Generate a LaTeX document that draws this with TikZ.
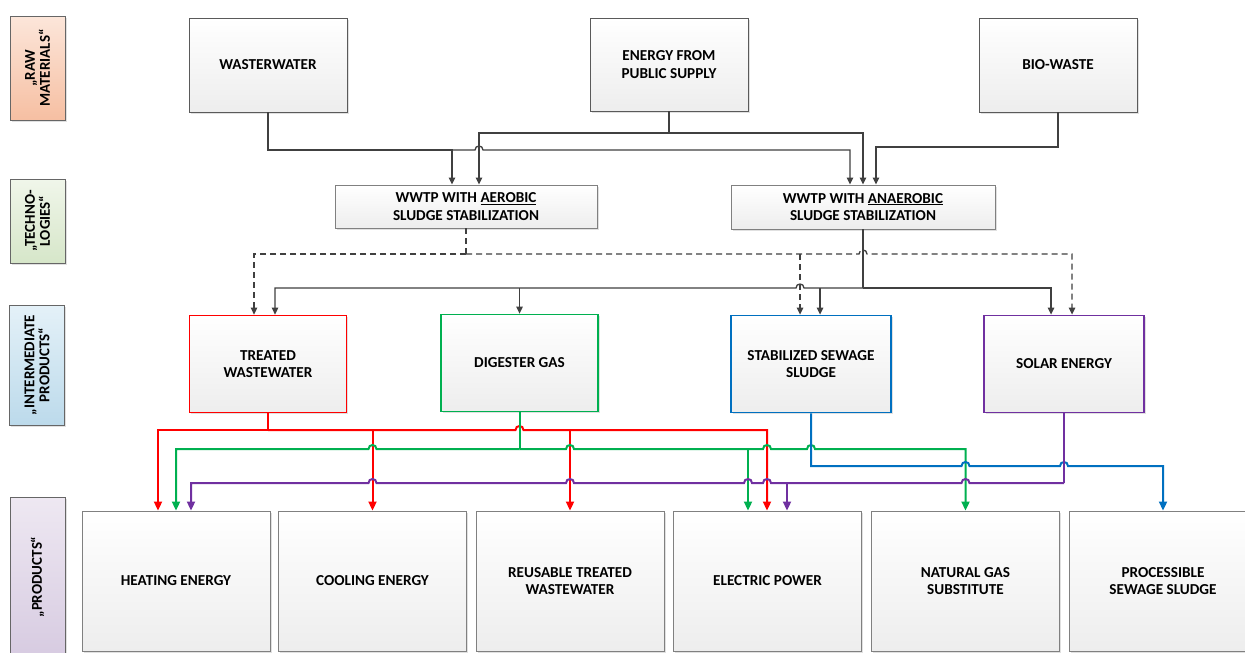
\documentclass[tikz,border=0pt]{standalone}
\usepackage{fontspec}
\setmainfont{Carlito}
\usetikzlibrary{arrows.meta,shadows}
\definecolor{cred}{HTML}{FF0000}
\definecolor{cgreen}{HTML}{00B050}
\definecolor{cblue}{HTML}{0070C0}
\definecolor{cpurple}{HTML}{7030A0}
\definecolor{cdark}{HTML}{404040}
\definecolor{bordtop}{HTML}{5A5A5A}
\definecolor{bordprod}{HTML}{808080}
\definecolor{rawL}{HTML}{FCE6DA}
\definecolor{rawR}{HTML}{F6BFA2}
\definecolor{tecL}{HTML}{F0F6EA}
\definecolor{tecR}{HTML}{D6E6C9}
\definecolor{intL}{HTML}{E4F1F8}
\definecolor{intR}{HTML}{BCDAEB}
\definecolor{proL}{HTML}{EEE8F2}
\definecolor{proR}{HTML}{D7CBE1}
\newcommand\boxfont{\fontsize{15.2}{17.5}\selectfont\bfseries}
\newcommand\labfont{\fontsize{15}{15}\selectfont\bfseries}
\newcommand\hopL[2]{-- ({#1+4},#2) .. controls ({#1+4},{#2-5.3}) and ({#1-4},{#2-5.3}) .. ({#1-4},#2)}
\newcommand\hopR[2]{-- ({#1-4},#2) .. controls ({#1-4},{#2-5.3}) and ({#1+4},{#2-5.3}) .. ({#1+4},#2)}
\tikzset{
  box/.style={draw=bordtop, line width=0.9pt, top color=white, bottom color=black!7,
    align=center, font=\boxfont, inner sep=2pt,
    drop shadow={shadow xshift=1.5pt, shadow yshift=-1.5pt, fill=black, opacity=0.12}},
  prodbox/.style={box, draw=bordprod, minimum width=188pt, minimum height=140pt},
  midbox/.style={box, line width=1.8pt, minimum width=157pt, minimum height=97pt},
  labbox/.style={draw=black!60, line width=0.7pt, rotate=90, align=center, font=\labfont,
    inner sep=1pt, minimum height=55pt,
    drop shadow={shadow xshift=1.5pt, shadow yshift=-1.5pt, fill=black, opacity=0.12}},
  dln/.style={draw=cdark, line width=1.3pt},
  darr/.style={dln, -{Triangle[length=7pt,width=6.5pt]}},
  dsh/.style={dln, dash pattern=on 6pt off 4pt},
  dsharr/.style={dsh, -{Triangle[length=7pt,width=6.5pt]}},
  cln/.style={line width=2pt},
  carr/.style={cln, -{Triangle[length=9pt,width=8pt]}},
}
\begin{document}
\begin{tikzpicture}[x=1pt,y=-1pt]
\useasboundingbox (0,0) rectangle (1245,653);
\fill[white] (0,0) rectangle (1245,653);

% left category labels
\node[labbox, top color=rawL, bottom color=rawR, minimum width=104pt] (lraw) at (37.5,68) {„RAW\\MATERIALS“};
\node[labbox, top color=tecL, bottom color=tecR, minimum width=84pt] (ltec) at (37.5,221) {„TECHNO-\\LOGIES“};
\node[labbox, top color=intL, bottom color=intR, minimum width=120pt] (lint) at (37,365) {„INTERMEDIATE\\PRODUCTS“};
\node[labbox, top color=proL, bottom color=proR, minimum width=160pt] (lpro) at (37.5,577) {„PRODUCTS“};

% raw materials
\node[box, minimum width=158pt, minimum height=94pt] (ww) at (268,65) {WASTERWATER};
\node[box, minimum width=158pt, minimum height=93pt] (en) at (669,64.5) {ENERGY FROM\\PUBLIC SUPPLY};
\node[box, minimum width=158pt, minimum height=94pt] (bio) at (1058,65) {BIO-WASTE};

% technologies
\node[box, draw=bordprod, minimum width=262pt, minimum height=43pt] (aer) at (466,206.5) {WWTP WITH \underline{AEROBIC}\\SLUDGE STABILIZATION};
\node[box, draw=bordprod, minimum width=264pt, minimum height=44pt] (ana) at (863,207) {WWTP WITH \underline{ANAEROBIC}\\SLUDGE STABILIZATION};

% intermediate products
\node[midbox, draw=cred] (tw) at (268,364) {TREATED\\WASTEWATER};
\node[midbox, draw=cgreen] (dg) at (519.5,363) {DIGESTER GAS};
\node[midbox, draw=cblue, minimum width=160pt] (ss) at (811,364) {STABILIZED SEWAGE\\SLUDGE};
\node[midbox, draw=cpurple, minimum width=160pt] (se) at (1064,364) {SOLAR ENERGY};

% products
\node[prodbox] (he) at (176,581) {HEATING ENERGY};
\node[prodbox] (ce) at (372.5,581) {COOLING ENERGY};
\node[prodbox] (rt) at (570,581) {REUSABLE TREATED\\WASTEWATER};
\node[prodbox] (ep) at (767.5,581) {ELECTRIC POWER};
\node[prodbox] (ng) at (965.5,581) {NATURAL GAS\\SUBSTITUTE};
\node[prodbox] (ps) at (1163,581) {PROCESSIBLE\\SEWAGE SLUDGE};

% raw -> technologies
\draw[darr] (ww.south) -- (268,150) -- (452,150) -- (452,0 |- aer.north);
\draw[darr] (ww.south) -- (268,150) \hopR{479}{150} -- (850,150) -- (850,0 |- ana.north);
\draw[darr] (en.south) -- (669,133) -- (479,133) -- (479,0 |- aer.north);
\draw[darr] (en.south) -- (669,133) -- (863,133) -- (863,0 |- ana.north);
\draw[darr] (bio.south) -- (1058,147) -- (876,147) -- (876,0 |- ana.north);

% aerobic (dashed) -> intermediate
\coordinate (aj) at (466,254);
\coordinate (aj2) at (800,254);
\draw[dsh] (aer.south) -- (aj);
\draw[dsharr] (aj) -- (254,254) -- (254,0 |- tw.north);
\draw[dsharr] (aj) \hopR{863}{254} -- (1072,254) -- (1072,0 |- se.north);
\draw[dsharr] (aj2) -- (800,0 |- ss.north);

% anaerobic -> intermediate
\coordinate (bj) at (863,288);
\coordinate (bj1) at (519.5,288);
\coordinate (bj2) at (820,288);
\draw[dln] (ana.south) -- (bj);
\draw[darr] (bj) \hopL{800}{288} -- (275,288) -- (275,0 |- tw.north);
\draw[darr] (bj) -- (1051,288) -- (1051,0 |- se.north);
\draw[darr] (bj1) -- (dg.north);
\draw[darr] (bj2) -- (820,0 |- ss.north);

% treated wastewater (red)
\coordinate (rj) at (268,430);
\coordinate (rj1) at (372.5,430);
\coordinate (rj2) at (570,430);
\draw[cln, cred] (tw.south) -- (rj);
\draw[carr, cred] (rj) -- (158,430) -- (158,0 |- he.north);
\draw[carr, cred] (rj) \hopR{519.5}{430} -- (767,430) -- (767,0 |- ep.north);
\draw[carr, cred] (rj1) -- (ce.north);
\draw[carr, cred] (rj2) -- (rt.north);

% digester gas (green)
\coordinate (gj) at (519.5,449);
\coordinate (gj1) at (748,449);
\draw[cln, cgreen] (dg.south) -- (gj);
\draw[carr, cgreen] (gj) \hopL{372.5}{449} -- (176,449) -- (176,0 |- he.north);
\draw[carr, cgreen] (gj) \hopR{570}{449} \hopR{767}{449} \hopR{811}{449} -- (965.5,449) -- (ng.north);
\draw[carr, cgreen] (gj1) -- (748,0 |- ep.north);

% stabilized sewage sludge (blue)
\draw[carr, cblue] (ss.south) -- (811,466) \hopR{965.5}{466} \hopR{1064}{466} -- (1163,466) -- (ps.north);

% solar energy (purple)
\coordinate (pj) at (1064,483);
\coordinate (pj1) at (787,483);
\draw[cln, cpurple] (se.south) -- (pj);
\draw[carr, cpurple] (pj) \hopL{965.5}{483} \hopL{767}{483} \hopL{748}{483} \hopL{570}{483} \hopL{372.5}{483} -- (191,483) -- (191,0 |- he.north);
\draw[carr, cpurple] (pj1) -- (787,0 |- ep.north);
\end{tikzpicture}
\end{document}
